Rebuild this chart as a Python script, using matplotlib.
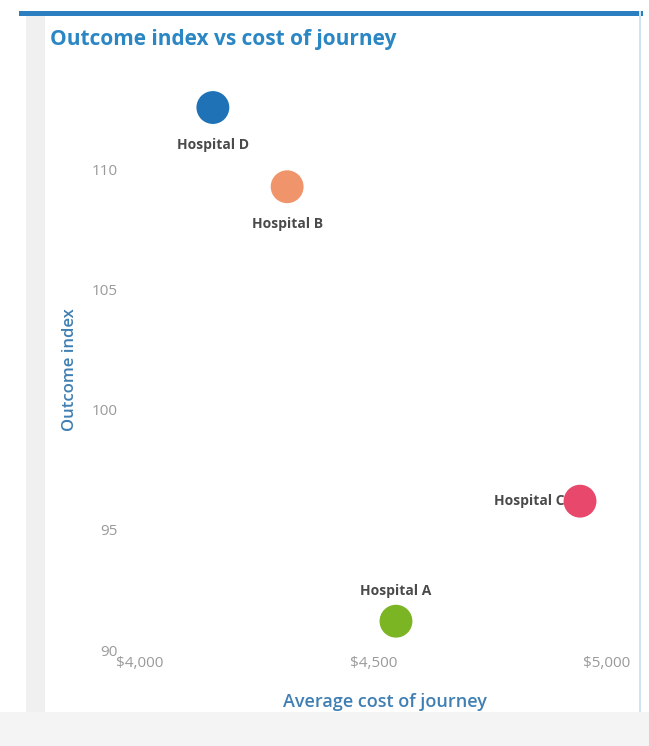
import matplotlib
matplotlib.use("Agg")
import matplotlib.pyplot as plt
from matplotlib.patches import Rectangle
from matplotlib.ticker import FuncFormatter

hospitals = ["Hospital D", "Hospital B", "Hospital C", "Hospital A"]
avg_cost = [4156, 4315, 4942, 4548]
outcome_index = [112.6, 109.3, 96.2, 91.2]
colors = ["#1f72b5", "#f0956b", "#e8486c", "#7bb523"]
label_pos = ["below", "below", "left", "above"]

y_ticks = [90, 95, 100, 105, 110]
x_ticks = [4000, 4500, 5000]

plt.rcParams['font.family'] = ['Open Sans', 'DejaVu Sans']

W, H = 649, 746
fig = plt.figure(figsize=(W / 100, H / 100), dpi=100)
fig.patch.set_facecolor("white")

# decorative frame
fig.patches.append(Rectangle((0.04, 0.0), 0.03, 0.985, transform=fig.transFigure,
                             facecolor="#f0f0f0", edgecolor="none", zorder=0))
fig.patches.append(Rectangle((0.03, 0.978), 0.96, 0.007, transform=fig.transFigure,
                             facecolor="#2b7fc0", edgecolor="none", zorder=0))
fig.patches.append(Rectangle((0.0, 0.0), 1.0, 0.045, transform=fig.transFigure,
                             facecolor="#f4f4f4", edgecolor="none", zorder=0))
fig.patches.append(Rectangle((0.985, 0.045), 0.003, 0.94, transform=fig.transFigure,
                             facecolor="#cfe3f3", edgecolor="none", zorder=0))

ax = fig.add_axes([140 / W, 1 - 650 / H, 490 / W, 560 / H])
ax.set_facecolor("none")
ax.scatter(avg_cost, outcome_index, s=560, c=colors, zorder=3, edgecolors="none")

for name, x, y, pos in zip(hospitals, avg_cost, outcome_index, label_pos):
    if pos == "below":
        ax.annotate(name, (x, y), xytext=(0, -22), textcoords="offset points",
                    ha="center", va="top", fontsize=10, fontweight="bold", color="#4a4a4a")
    elif pos == "above":
        ax.annotate(name, (x, y), xytext=(0, 17), textcoords="offset points",
                    ha="center", va="bottom", fontsize=10, fontweight="bold", color="#4a4a4a")
    else:
        ax.annotate(name, (x, y), xytext=(-11, 0), textcoords="offset points",
                    ha="right", va="center", fontsize=10, fontweight="bold", color="#4a4a4a")

ax.set_xlim(4000, 5049)
ax.set_ylim(90, 113.33)
ax.set_yticks(y_ticks)
ax.set_xticks(x_ticks)
ax.xaxis.set_major_formatter(FuncFormatter(lambda v, p: f"${v:,.0f}"))
ax.tick_params(axis="both", length=0, labelsize=11, labelcolor="#9a9a9a")
ax.tick_params(axis="y", pad=16)
ax.tick_params(axis="x", pad=4)
for s in ax.spines.values():
    s.set_visible(False)

ax.set_xlabel("Average cost of journey", fontsize=13, color="#3f7fb3", labelpad=16,
              fontweight="semibold")
ax.set_ylabel("Outcome index", fontsize=12, color="#3f7fb3", labelpad=10,
              fontweight="semibold")

fig.text(50 / W, 1 - 40 / H, "Outcome index vs cost of journey", fontsize=15,
         fontweight="bold", color="#2b86c4", ha="left", va="center")

fig.savefig("out.png", dpi=100, facecolor=fig.get_facecolor())
